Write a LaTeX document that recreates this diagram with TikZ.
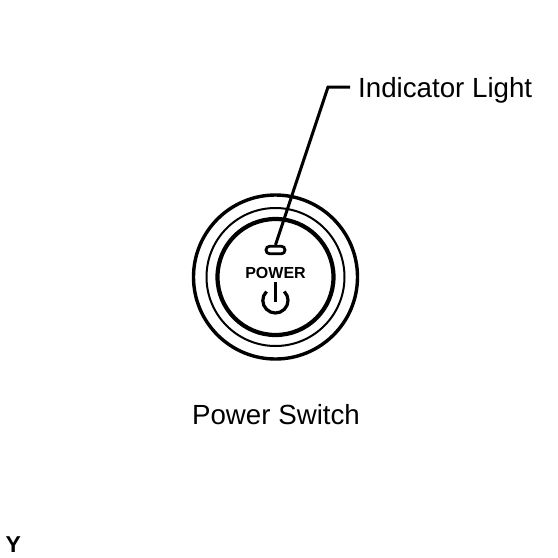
\documentclass[tikz,border=0pt]{standalone}
\usepackage{fontspec}
\setmainfont{Liberation Sans}
\tikzset{
  x=1pt,y=-1pt,
  label text/.style={inner sep=0pt,anchor=base west,font=\fontsize{27.7}{30}\selectfont},
  lead/.style={line width=3pt,line join=miter},
}
\begin{document}
\begin{tikzpicture}
\useasboundingbox (0,0) rectangle (558,558);
\coordinate (c) at (275.5,277);
\draw[line width=3.4pt] (c) circle[radius=82];
\draw[line width=2pt] (c) circle[radius=69];
\draw[line width=4.2pt] (c) circle[radius=58];
\node[draw,line width=2.8pt,rounded corners=3.6pt,minimum width=19pt,minimum height=7.5pt,inner sep=0pt] (ind) at (275.5,250) {};
\node[label text] (il) at (358,97) {Indicator Light};
\coordinate (bend) at (328,87);
\coordinate (tail) at (350,87);
\draw[lead] (ind.north) -- (bend) -- (tail);
\node[inner sep=0pt,anchor=base,font=\bfseries\fontsize{16}{18}\selectfont] (pw) at (275.5,278) {POWER};
\draw[line width=3.2pt] (266.5,291.5) arc[start angle=225,end angle=-45,radius=12.6];
\draw[line width=2.4pt] (275.5,282) -- (275.5,302);
\node[label text,anchor=base] (ps) at (276,424) {Power Switch};
\node[inner sep=0pt,anchor=base west,font=\bfseries\fontsize{23}{26}\selectfont] (y) at (5.5,552) {Y};
\end{tikzpicture}
\end{document}
